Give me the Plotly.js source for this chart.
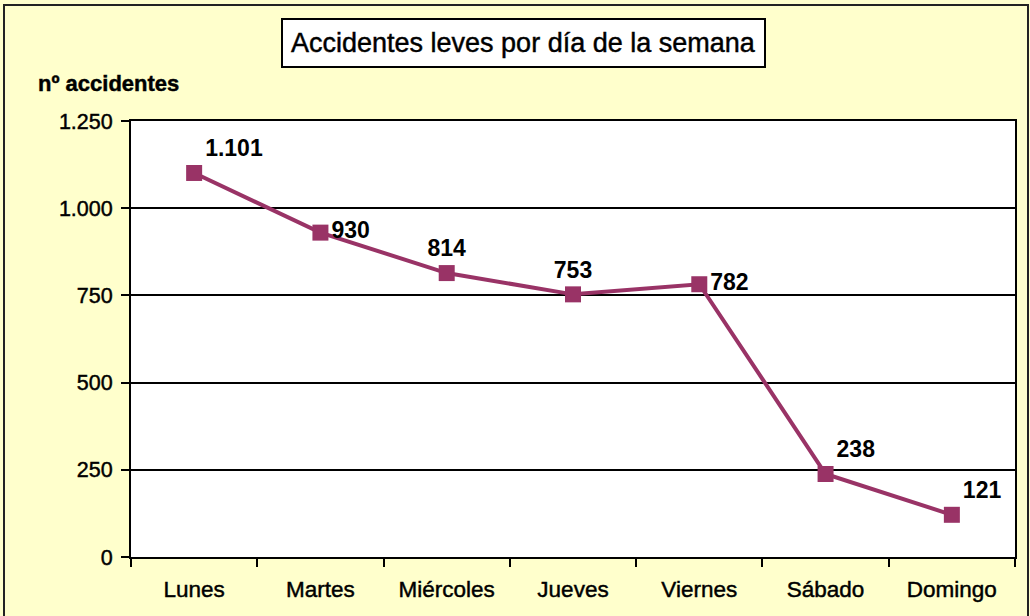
<!DOCTYPE html>
<html>
<head>
<meta charset="utf-8">
<script src="https://cdn.plot.ly/plotly-3.0.1.min.js"></script>
<style>
  html, body { margin: 0; padding: 0; background: #FFFFCC; }
  #chart { width: 1030px; height: 616px; }
  #chart .xtick text, #chart .ytick text, #chart .annotation-text {
    stroke: #000000; stroke-width: 0.45px;
  }
</style>
</head>
<body>
<div id="chart"></div>
<script>
const days = ["Lunes", "Martes", "Miércoles", "Jueves", "Viernes", "Sábado", "Domingo"];
const accidents = [1101, 930, 814, 753, 782, 238, 121];
const yTicks = [0, 250, 500, 750, 1000, 1250];
const labelPositions = ["top right", "middle right", "top center", "top center", "middle right", "top right", "top right"];

const FONT = "Liberation Sans, Arial, Helvetica, sans-serif";
const PLOT_L = 131, PLOT_R = 1015, PLOT_T = 121, PLOT_B = 557;
const PW = PLOT_R - PLOT_L, PH = PLOT_B - PLOT_T;
const px = v => (v - PLOT_L) / PW;
const py = v => (PLOT_B - v) / PH;

const trace = {
  type: "scatter",
  mode: "lines+markers+text",
  x: days,
  y: accidents,
  line: { color: "#993366", width: 4 },
  marker: { symbol: "square", size: 16, color: "#993366" },
  texttemplate: "%{y:,}",
  textposition: labelPositions,
  textfont: { family: FONT, size: 23, color: "#000000", weight: "bold" },
  hoverinfo: "skip",
  cliponaxis: false
};

const layout = {
  width: 1030,
  height: 616,
  separators: ",.",
  paper_bgcolor: "#FFFFCC",
  plot_bgcolor: "#FFFFFF",
  margin: { l: PLOT_L, r: 1030 - PLOT_R, t: PLOT_T, b: 616 - PLOT_B, pad: 0 },
  showlegend: false,
  font: { family: FONT, color: "#000000" },
  xaxis: {
    type: "category",
    range: [-0.5, 6.5],
    tickson: "boundaries",
    ticks: "outside",
    ticklen: 8,
    tickwidth: 2,
    tickcolor: "#000000",
    ticklabelstandoff: 11,
    showgrid: false,
    showline: true,
    linecolor: "#000000",
    linewidth: 2,
    mirror: true,
    tickfont: { family: FONT, size: 22.5, color: "#000000" },
    zeroline: false,
    fixedrange: true
  },
  yaxis: {
    range: [0, 1250],
    tickvals: yTicks,
    tickformat: ",",
    ticks: "outside",
    ticklen: 8,
    tickwidth: 2,
    tickcolor: "#000000",
    ticklabelstandoff: 4,
    showgrid: true,
    gridcolor: "#000000",
    gridwidth: 2,
    showline: true,
    linecolor: "#000000",
    linewidth: 2,
    mirror: true,
    zeroline: false,
    tickfont: { family: FONT, size: 21.5, color: "#000000" },
    fixedrange: true
  },
  shapes: [
    {
      type: "rect", xref: "paper", yref: "paper",
      x0: px(4), x1: px(1028), y0: py(640), y1: py(5),
      line: { color: "#222222", width: 2 }, fillcolor: "rgba(0,0,0,0)", layer: "below"
    }
  ],
  annotations: [
    {
      xref: "paper", yref: "paper",
      x: px(523), y: py(43), xanchor: "center", yanchor: "middle",
      text: "Accidentes leves por día de la semana",
      showarrow: false,
      font: { family: FONT, size: 27, color: "#000000" },
      bgcolor: "#FFFFFF", bordercolor: "#000000", borderwidth: 2, borderpad: 8
    },
    {
      xref: "paper", yref: "paper",
      x: px(36), y: py(84), xanchor: "left", yanchor: "middle",
      text: "nº accidentes",
      showarrow: false,
      font: { family: FONT, size: 22, color: "#000000", weight: "bold" }
    }
  ]
};

Plotly.newPlot("chart", [trace], layout, { displayModeBar: false, staticPlot: true });
</script>
</body>
</html>
